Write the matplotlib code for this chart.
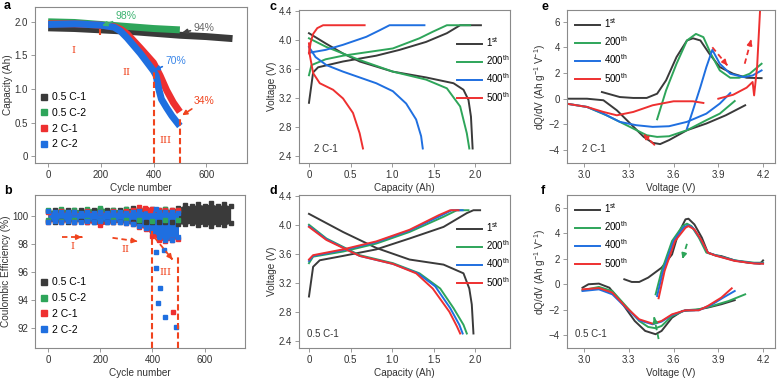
import matplotlib
matplotlib.use('Agg')
import matplotlib.pyplot as plt
from matplotlib.lines import Line2D

plt.rcParams['font.family'] = ['Liberation Sans', 'DejaVu Sans']
plt.rcParams['mathtext.fontset'] = 'custom'
plt.rcParams['mathtext.rm'] = 'Liberation Sans'

# ---------------- colours ----------------
C_BLACK = '#3a3a3a'
C_GREEN = '#2ea55a'
C_RED = '#ee3030'
C_BLUE = '#1f6fe0'
C_ANN = '#f0441e'

# ---------------- panel a: capacity vs cycle ----------------
a_cyc_05c1 = [0, 100, 200, 300, 400, 500, 600, 700]
a_cap_05c1 = [1.91, 1.90, 1.88, 1.86, 1.83, 1.80, 1.78, 1.75]
a_cyc_05c2 = [0, 100, 200, 300, 400, 500]
a_cap_05c2 = [2.00, 1.99, 1.96, 1.93, 1.90, 1.88]
a_cyc_2c1 = [0, 100, 200, 250, 275, 300, 350, 400, 425, 450, 475, 500]
a_cap_2c1 = [1.97, 1.97, 1.95, 1.93, 1.89, 1.82, 1.61, 1.39, 1.20, 0.98, 0.80, 0.66]
a_cyc_2c2 = [0, 100, 200, 250, 275, 300, 350, 400, 410, 420, 430, 450, 470, 490, 500]
a_cap_2c2 = [1.96, 1.97, 1.95, 1.92, 1.86, 1.76, 1.53, 1.27, 1.20, 1.00, 0.85, 0.72, 0.60, 0.50, 0.45]
a_labels = ['0.5 C-1', '0.5 C-2', '2 C-1', '2 C-2']

# ---------------- panel b: coulombic efficiency envelopes ----------------
b_cyc_05c1 = [0, 25, 50, 75, 100, 125, 150, 175, 200, 225, 250, 275, 300, 325, 350,
              375, 400, 425, 450, 475, 500, 525, 550, 575, 600, 625, 650, 675, 700]
b_hi_05c1 = [100.35, 100.4, 100.45, 100.4, 100.45, 100.4, 100.45, 100.4, 100.5, 100.4, 100.45, 100.4, 100.5, 100.6, 100.5,
             100.45, 100.5, 100.45, 100.5, 100.45, 100.6, 100.8, 100.7, 100.85, 100.75, 100.9, 100.7, 100.85, 100.7]
b_lo_05c1 = [99.65, 99.6, 99.65, 99.6, 99.6, 99.65, 99.55, 99.6, 99.6, 99.55, 99.6, 99.6, 99.55, 99.6, 99.6,
             99.6, 99.6, 99.6, 99.6, 99.6, 99.45, 99.4, 99.5, 99.35, 99.45, 99.3, 99.45, 99.35, 99.5]
b_cyc_05c2 = [0, 50, 100, 150, 200, 250, 300, 350, 400, 450, 500]
b_hi_05c2 = [100.4, 100.5, 100.45, 100.5, 100.6, 100.45, 100.5, 100.5, 100.45, 100.5, 100.45]
b_lo_05c2 = [99.7, 99.65, 99.7, 99.7, 99.65, 99.7, 99.7, 99.7, 99.65, 99.7, 99.7]
b_cyc_2c1 = [0, 50, 100, 150, 200, 250, 300, 325, 350, 375, 400, 425, 450, 475, 500]
b_hi_2c1 = [100.3, 100.35, 100.3, 100.35, 100.3, 100.35, 100.35, 100.45, 100.65, 100.5, 100.5, 100.4, 100.45, 100.4, 100.4]
b_lo_2c1 = [99.6, 99.55, 99.6, 99.55, 99.35, 99.55, 99.5, 99.4, 99.2, 99.1, 98.6, 98.3, 98.2, 98.3, 98.4]
b_cyc_2c2 = [0, 25, 50, 75, 100, 125, 150, 175, 200, 225, 250, 275, 300, 325, 350, 375, 400, 425, 450, 475, 500]
b_hi_2c2 = [100.35, 100.3, 100.3, 100.3, 100.3, 100.25, 100.3, 100.25, 100.3, 100.25, 100.3, 100.3,
            100.25, 100.3, 100.35, 100.3, 100.25, 100.3, 100.3, 100.3, 100.2]
b_lo_2c2 = [99.6, 99.65, 99.6, 99.65, 99.6, 99.6, 99.65, 99.6, 99.65, 99.6, 99.55, 99.6,
            99.5, 99.4, 99.3, 99.15, 98.9, 98.5, 98.3, 98.3, 98.5]
b_out_blue_cyc = [414, 414, 414, 430, 422, 449, 490, 445]
b_out_blue_ce = [100.5, 97.45, 96.3, 94.9, 93.8, 92.8, 92.1, 97.6]
b_out_red_cyc = [479, 390, 370]
b_out_red_ce = [93.2, 100.4, 100.6]

# ---------------- panel c: 2 C-1 charge / discharge ----------------
cyc_labels = ['1$^{\\rm st}$', '200$^{\\rm th}$', '400$^{\\rm th}$', '500$^{\\rm th}$']
c_ch_1_q = [0, 0.05, 0.11, 0.41, 0.81, 1.09, 1.41, 1.66, 1.82, 2.07]
c_ch_1_v = [3.13, 3.55, 3.62, 3.70, 3.78, 3.86, 3.97, 4.09, 4.20, 4.20]
c_dc_1_q = [0, 0.20, 0.41, 0.61, 1.01, 1.41, 1.74, 1.86, 1.92, 1.95, 1.97]
c_dc_1_v = [4.09, 3.95, 3.81, 3.70, 3.56, 3.48, 3.40, 3.31, 3.17, 2.94, 2.50]
c_ch_200_q = [0, 0.03, 0.20, 0.41, 1.01, 1.33, 1.49, 1.66, 1.94]
c_ch_200_v = [3.51, 3.65, 3.73, 3.78, 3.88, 4.02, 4.11, 4.20, 4.20]
c_dc_200_q = [0, 0.21, 0.61, 1.01, 1.41, 1.66, 1.82, 1.90, 1.93]
c_dc_200_v = [4.02, 3.90, 3.72, 3.56, 3.45, 3.33, 3.08, 2.71, 2.50]
c_ch_400_q = [0, 0.20, 0.41, 0.69, 0.85, 0.97, 1.39]
c_ch_400_v = [3.82, 3.86, 3.93, 4.04, 4.13, 4.20, 4.20]
c_dc_400_q = [0, 0.08, 0.21, 0.41, 0.61, 0.81, 1.01, 1.17, 1.29, 1.35, 1.37]
c_dc_400_v = [3.90, 3.76, 3.65, 3.56, 3.48, 3.40, 3.29, 3.12, 2.90, 2.67, 2.50]
c_ch_500_q = [0, 0.02, 0.05, 0.10, 0.17, 0.67]
c_ch_500_v = [3.81, 3.96, 4.08, 4.16, 4.20, 4.20]
c_dc_500_q = [0, 0.01, 0.05, 0.13, 0.29, 0.41, 0.53, 0.61, 0.65]
c_dc_500_v = [3.95, 3.79, 3.54, 3.40, 3.31, 3.19, 2.99, 2.71, 2.50]

# ---------------- panel d: 0.5 C-1 charge / discharge ----------------
d_ch_1_q = [0, 0.05, 0.13, 0.41, 0.81, 1.21, 1.62, 1.90, 1.98, 2.06]
d_ch_1_v = [3.01, 3.42, 3.51, 3.57, 3.66, 3.81, 3.97, 4.16, 4.20, 4.20]
d_dc_1_q = [0, 0.41, 0.81, 1.21, 1.62, 1.86, 1.93, 1.96, 1.98]
d_dc_1_v = [4.15, 3.90, 3.68, 3.52, 3.45, 3.33, 3.12, 2.90, 2.50]
d_ch_200_q = [0, 0.05, 0.41, 0.81, 1.21, 1.62, 1.78, 1.92]
d_ch_200_v = [3.47, 3.56, 3.63, 3.74, 3.90, 4.11, 4.20, 4.20]
d_dc_200_q = [0, 0.21, 0.61, 1.01, 1.33, 1.58, 1.74, 1.86, 1.90]
d_dc_200_v = [4.00, 3.81, 3.58, 3.47, 3.33, 3.12, 2.85, 2.62, 2.50]
d_ch_400_q = [0, 0.05, 0.41, 0.81, 1.21, 1.58, 1.72, 1.85]
d_ch_400_v = [3.50, 3.57, 3.65, 3.76, 3.92, 4.12, 4.20, 4.20]
d_dc_400_q = [0, 0.21, 0.61, 1.01, 1.31, 1.52, 1.70, 1.81, 1.85]
d_dc_400_v = [3.98, 3.80, 3.57, 3.46, 3.33, 3.15, 2.85, 2.62, 2.50]
d_ch_500_q = [0, 0.05, 0.41, 0.81, 1.21, 1.56, 1.70, 1.80]
d_ch_500_v = [3.52, 3.58, 3.66, 3.77, 3.93, 4.13, 4.20, 4.20]
d_dc_500_q = [0, 0.21, 0.61, 1.01, 1.29, 1.49, 1.69, 1.78, 1.82]
d_dc_500_v = [3.97, 3.79, 3.57, 3.46, 3.33, 3.12, 2.80, 2.60, 2.50]

# ---------------- panel e: dQ/dV 2 C-1 ----------------
e_ch_1_v = [3.12, 3.24, 3.33, 3.42, 3.49, 3.55, 3.62, 3.69, 3.73, 3.78, 3.84, 3.91, 4.00, 4.09, 4.19]
e_ch_1_y = [0.52, 0.13, 0.06, 0.06, 0.39, 1.43, 3.24, 4.53, 4.70, 4.53, 3.50, 2.46, 1.94, 1.63, 1.60]
e_dc_1_v = [2.88, 3.02, 3.13, 3.22, 3.31, 3.40, 3.46, 3.51, 3.57, 3.69, 3.82, 3.95, 4.08]
e_dc_1_y = [0.0, 0.0, -0.12, -0.90, -1.93, -2.97, -3.43, -3.53, -3.22, -2.45, -1.93, -1.29, -0.51]
e_ch_200_v = [3.49, 3.55, 3.62, 3.69, 3.75, 3.80, 3.85, 3.91, 3.98, 4.04, 4.11, 4.19]
e_ch_200_y = [-1.60, 0.65, 2.72, 4.53, 5.04, 4.79, 3.50, 2.20, 1.63, 1.63, 1.94, 2.72]
e_dc_200_v = [2.88, 3.02, 3.15, 3.24, 3.33, 3.42, 3.49, 3.57, 3.69, 3.82, 3.91, 4.01]
e_dc_200_y = [-0.38, -0.64, -1.29, -1.80, -2.32, -2.84, -2.97, -2.92, -2.45, -1.67, -1.16, -0.18]
e_ch_400_v = [3.69, 3.73, 3.78, 3.82, 3.86, 3.91, 3.98, 4.07, 4.13, 4.19]
e_ch_400_y = [-2.32, -0.90, 0.91, 2.46, 3.80, 2.72, 1.94, 1.68, 1.81, 2.20]
e_dc_400_v = [2.88, 3.02, 3.13, 3.24, 3.35, 3.46, 3.57, 3.69, 3.82, 3.91, 3.98]
e_dc_400_y = [-0.38, -0.64, -1.16, -1.80, -2.06, -2.19, -2.14, -1.80, -1.16, -0.38, 0.44]
e_ch_500_v = [3.90, 4.00, 4.09, 4.13, 4.14, 4.16, 4.18]
e_ch_500_y = [0.0, 0.31, 0.86, 1.30, 0.26, 2.46, 6.90]
e_dc_500_v = [2.88, 3.02, 3.13, 3.22, 3.33, 3.46, 3.60, 3.73, 3.80]
e_dc_500_y = [-0.38, -0.64, -1.03, -1.29, -1.03, -0.51, -0.20, -0.20, -0.33]

# ---------------- panel f: dQ/dV 0.5 C-1 ----------------
f_ch_1_v = [3.27, 3.32, 3.37, 3.43, 3.52, 3.59, 3.63, 3.68, 3.70, 3.74, 3.79, 3.83, 3.88, 3.92, 4.01, 4.10, 4.18, 4.20]
f_ch_1_y = [0.39, 0.18, 0.18, 0.52, 1.30, 2.34, 3.91, 5.09, 5.14, 4.69, 3.65, 2.48, 2.27, 2.21, 1.87, 1.69, 1.61, 1.87]
f_ch_200_v = [3.48, 3.52, 3.59, 3.66, 3.69, 3.72, 3.77, 3.82, 3.88, 4.01, 4.14, 4.20]
f_ch_200_y = [-0.79, 1.04, 3.39, 4.56, 4.75, 4.56, 3.65, 2.48, 2.29, 1.87, 1.69, 1.69]
f_ch_400_v = [3.49, 3.53, 3.60, 3.67, 3.70, 3.73, 3.78, 3.83, 3.88, 4.01, 4.14, 4.20]
f_ch_400_y = [-0.92, 1.04, 3.39, 4.49, 4.62, 4.43, 3.55, 2.48, 2.27, 1.85, 1.65, 1.63]
f_ch_500_v = [3.50, 3.54, 3.61, 3.68, 3.70, 3.74, 3.79, 3.83, 3.88, 4.01, 4.14, 4.20]
f_ch_500_y = [-1.10, 1.04, 3.39, 4.43, 4.56, 4.30, 3.39, 2.48, 2.25, 1.83, 1.63, 1.61]
f_dc_1_v = [2.99, 3.03, 3.10, 3.17, 3.26, 3.34, 3.41, 3.48, 3.52, 3.59, 3.66, 3.74, 3.83, 3.92, 4.01]
f_dc_1_y = [-0.27, 0.0, 0.05, -0.27, -1.57, -2.88, -3.66, -3.92, -3.66, -2.62, -2.09, -2.04, -1.83, -1.57, -1.25]
f_dc_200_v = [2.99, 3.10, 3.19, 3.28, 3.37, 3.43, 3.48, 3.52, 3.59, 3.68, 3.77, 3.86, 3.97, 4.08]
f_dc_200_y = [-0.47, -0.21, -0.53, -1.70, -2.88, -3.35, -3.45, -3.27, -2.49, -2.04, -1.96, -1.70, -1.31, -0.79]
f_dc_400_v = [2.99, 3.10, 3.19, 3.28, 3.37, 3.46, 3.52, 3.59, 3.68, 3.77, 3.86, 3.94, 4.01]
f_dc_400_y = [-0.53, -0.40, -0.79, -1.83, -2.83, -3.14, -2.93, -2.41, -2.04, -2.04, -1.57, -1.00, -0.53]
f_dc_500_v = [2.99, 3.10, 3.19, 3.28, 3.37, 3.46, 3.52, 3.59, 3.68, 3.77, 3.83, 3.92, 3.99]
f_dc_500_y = [-0.40, -0.30, -0.66, -1.78, -2.75, -3.09, -2.88, -2.36, -2.04, -2.04, -1.70, -1.05, -0.32]

W, H = 780, 379
fig = plt.figure(figsize=(7.8, 3.79), dpi=100)


def box(l, t, r, b):
    return [l / W, 1 - b / H, (r - l) / W, (b - t) / H]


def style(ax):
    for s in ax.spines.values():
        s.set_color('#8a8a8a')
        s.set_linewidth(0.8)
    ax.tick_params(direction='out', length=3, width=0.6, color='#8a8a8a',
                   labelsize=7, labelcolor='#333333', pad=2)


def lab(ax, xl, yl):
    ax.set_xlabel(xl, fontsize=7.2, color='#333333', labelpad=2)
    ax.set_ylabel(yl, fontsize=7.2, color='#333333', labelpad=1)


def dash_arrow(ax, x0, y0, x1, y1, color):
    ax.plot([x0, x1], [y0, y1], color=color, lw=1.3, ls=(0, (3, 2)))
    ax.annotate('', xy=(x1, y1), xytext=(x0 + 0.85 * (x1 - x0), y0 + 0.85 * (y1 - y0)),
                arrowprops=dict(arrowstyle='-|>', color=color, lw=1.3, mutation_scale=7))


def cyc_legend(ax, anchor):
    ax.legend(loc='upper left', bbox_to_anchor=anchor, frameon=False, fontsize=7,
              handlelength=2.6, handletextpad=0.4, labelspacing=0.45, borderaxespad=0)


# ======== a ========
ax = fig.add_axes(box(35, 7, 247, 163))
style(ax)
ax.plot(a_cyc_05c1, a_cap_05c1, color=C_BLACK, lw=5, solid_capstyle='butt')
ax.plot(a_cyc_05c2, a_cap_05c2, color=C_GREEN, lw=5, solid_capstyle='butt')
ax.plot(a_cyc_2c1, a_cap_2c1, color=C_RED, lw=5, solid_capstyle='butt')
ax.plot(a_cyc_2c2, a_cap_2c2, color=C_BLUE, lw=5, solid_capstyle='butt')
ax.set_xlim(-50, 755)
ax.set_ylim(-0.1, 2.22)
ax.set_xticks([0, 200, 400, 600])
ax.set_yticks([0, 0.5, 1.0, 1.5, 2.0])
ax.set_yticklabels(['0', '0.5', '1.0', '1.5', '2.0'])
lab(ax, 'Cycle number', 'Capacity (Ah)')
handles = [Line2D([], [], ls='', marker='s', ms=4.5, color=c) for c in [C_BLACK, C_GREEN, C_RED, C_BLUE]]
ax.legend(handles, a_labels, loc='lower left', bbox_to_anchor=(0.01, 0.06), frameon=False, fontsize=7.5,
          handlelength=0.6, handletextpad=0.4, labelspacing=0.55, borderaxespad=0)
ax.plot([400, 400], [-0.1, 1.27], color=C_ANN, lw=1.5, ls=(0, (3, 1.5)))
ax.plot([500, 500], [-0.1, 0.58], color=C_ANN, lw=1.5, ls=(0, (3, 1.5)))
ax.plot([198, 198], [1.80, 1.90], color=C_ANN, lw=1.5, ls=(0, (3, 1.5)))
ax.text(95, 1.58, 'I', color=C_ANN, fontsize=7, ha='center', va='center', family='DejaVu Serif')
ax.text(297, 1.25, 'II', color=C_ANN, fontsize=7, ha='center', va='center', family='DejaVu Serif')
ax.text(445, 0.24, 'III', color=C_ANN, fontsize=7, ha='center', va='center', family='DejaVu Serif')
ap = dict(arrowstyle='-|>', lw=1.2, mutation_scale=7, shrinkA=0, shrinkB=0)
ax.annotate('98%', xy=(205, 1.94), xytext=(255, 2.08), color='#3cb371', fontsize=7.5, va='center',
            arrowprops=dict(ap, color='#3cb371'))
ax.annotate('94%', xy=(509, 1.84), xytext=(551, 1.91), color='#666666', fontsize=7.5, va='center',
            arrowprops=dict(ap, color='#444444'))
ax.annotate('70%', xy=(403, 1.28), xytext=(444, 1.42), color='#3a86e8', fontsize=7.5, va='center',
            arrowprops=dict(ap, color=C_BLUE))
ax.annotate('34%', xy=(509, 0.61), xytext=(551, 0.82), color=C_ANN, fontsize=7.5, va='center',
            arrowprops=dict(ap, color=C_ANN))
fig.text(4 / W, 1 - 6 / H, 'a', fontsize=9, fontweight='bold', va='center')

# ======== b ========
ax = fig.add_axes(box(35, 195, 245, 348))
style(ax)
for cyc, hi, lo, c in [(b_cyc_05c1, b_hi_05c1, b_lo_05c1, C_BLACK),
                       (b_cyc_05c2, b_hi_05c2, b_lo_05c2, C_GREEN),
                       (b_cyc_2c1, b_hi_2c1, b_lo_2c1, C_RED),
                       (b_cyc_2c2, b_hi_2c2, b_lo_2c2, C_BLUE)]:
    ax.fill_between(cyc, lo, hi, color=c, lw=0)
    ax.plot(cyc, hi, ls='', marker='s', ms=3.2, color=c)
    ax.plot(cyc, lo, ls='', marker='s', ms=3.2, color=c)
ax.plot(b_out_red_cyc, b_out_red_ce, ls='', marker='s', ms=3.2, color=C_RED)
ax.plot(b_out_blue_cyc, b_out_blue_ce, ls='', marker='s', ms=3.2, color=C_BLUE)
ax.set_xlim(-50, 755)
ax.set_ylim(90.6, 101.5)
ax.set_xticks([0, 200, 400, 600])
ax.set_yticks([92, 94, 96, 98, 100])
lab(ax, 'Cycle number', 'Coulombic Efficiency (%)')
ax.legend(handles, a_labels, loc='lower left', bbox_to_anchor=(0.01, 0.06), frameon=False, fontsize=7.5,
          handlelength=0.6, handletextpad=0.4, labelspacing=0.55, borderaxespad=0)
ax.plot([400, 400], [90.6, 98.9], color=C_ANN, lw=1.5, ls=(0, (3, 1.5)))
ax.plot([500, 500], [90.6, 97.1], color=C_ANN, lw=1.5, ls=(0, (3, 1.5)))
dash_arrow(ax, 53, 98.5, 129, 98.5, C_ANN)
dash_arrow(ax, 247, 98.45, 342, 98.2, C_ANN)
dash_arrow(ax, 407, 98.5, 477, 96.9, C_ANN)
ax.text(95, 97.8, 'I', color=C_ANN, fontsize=7, ha='center', va='center', family='DejaVu Serif')
ax.text(297, 97.65, 'II', color=C_ANN, fontsize=7, ha='center', va='center', family='DejaVu Serif')
ax.text(448, 96.0, 'III', color=C_ANN, fontsize=7, ha='center', va='center', family='DejaVu Serif')
fig.text(4 / W, 1 - 191 / H, 'b', fontsize=9, fontweight='bold', va='center')

# ======== c ========
ax = fig.add_axes(box(299, 10, 510, 163))
style(ax)
for q1, v1, q2, v2, c, l in [(c_ch_1_q, c_ch_1_v, c_dc_1_q, c_dc_1_v, C_BLACK, cyc_labels[0]),
                             (c_ch_200_q, c_ch_200_v, c_dc_200_q, c_dc_200_v, C_GREEN, cyc_labels[1]),
                             (c_ch_400_q, c_ch_400_v, c_dc_400_q, c_dc_400_v, C_BLUE, cyc_labels[2]),
                             (c_ch_500_q, c_ch_500_v, c_dc_500_q, c_dc_500_v, C_RED, cyc_labels[3])]:
    ax.plot(q1, v1, color=c, lw=1.4, label=l)
    ax.plot(q2, v2, color=c, lw=1.4)
ax.set_xlim(-0.12, 2.42)
ax.set_ylim(2.30, 4.41)
ax.set_xticks([0, 0.5, 1.0, 1.5, 2.0])
ax.set_xticklabels(['0', '0.5', '1.0', '1.5', '2.0'])
ax.set_yticks([2.4, 2.8, 3.2, 3.6, 4.0, 4.4])
lab(ax, 'Capacity (Ah)', 'Voltage (V)')
cyc_legend(ax, (0.73, 0.86))
ax.text(0.07, 0.07, '2 C-1', transform=ax.transAxes, fontsize=7, color='#333333')
fig.text(269 / W, 1 - 7 / H, 'c', fontsize=9, fontweight='bold', va='center')

# ======== d ========
ax = fig.add_axes(box(299, 195, 510, 348))
style(ax)
for q1, v1, q2, v2, c, l in [(d_ch_1_q, d_ch_1_v, d_dc_1_q, d_dc_1_v, C_BLACK, cyc_labels[0]),
                             (d_ch_200_q, d_ch_200_v, d_dc_200_q, d_dc_200_v, C_GREEN, cyc_labels[1]),
                             (d_ch_400_q, d_ch_400_v, d_dc_400_q, d_dc_400_v, C_BLUE, cyc_labels[2]),
                             (d_ch_500_q, d_ch_500_v, d_dc_500_q, d_dc_500_v, C_RED, cyc_labels[3])]:
    ax.plot(q1, v1, color=c, lw=1.4, label=l)
    ax.plot(q2, v2, color=c, lw=1.4)
ax.set_xlim(-0.12, 2.42)
ax.set_ylim(2.30, 4.41)
ax.set_xticks([0, 0.5, 1.0, 1.5, 2.0])
ax.set_xticklabels(['0', '0.5', '1.0', '1.5', '2.0'])
ax.set_yticks([2.4, 2.8, 3.2, 3.6, 4.0, 4.4])
lab(ax, 'Capacity (Ah)', 'Voltage (V)')
cyc_legend(ax, (0.73, 0.86))
ax.text(0.04, 0.07, '0.5 C-1', transform=ax.transAxes, fontsize=7, color='#333333')
fig.text(269 / W, 1 - 191 / H, 'd', fontsize=9, fontweight='bold', va='center')

# ======== e ========
ax = fig.add_axes(box(567, 10, 775, 163))
style(ax)
for v1, y1, v2, y2, c, l in [(e_ch_1_v, e_ch_1_y, e_dc_1_v, e_dc_1_y, C_BLACK, cyc_labels[0]),
                             (e_ch_200_v, e_ch_200_y, e_dc_200_v, e_dc_200_y, C_GREEN, cyc_labels[1]),
                             (e_ch_400_v, e_ch_400_y, e_dc_400_v, e_dc_400_y, C_BLUE, cyc_labels[2]),
                             (e_ch_500_v, e_ch_500_y, e_dc_500_v, e_dc_500_y, C_RED, cyc_labels[3])]:
    ax.plot(v1, y1, color=c, lw=1.4, label=l)
    ax.plot(v2, y2, color=c, lw=1.4)
ax.set_xlim(2.886, 4.28)
ax.set_ylim(-5.0, 6.9)
ax.set_xticks([3.0, 3.3, 3.6, 3.9, 4.2])
ax.set_yticks([-4, -2, 0, 2, 4, 6])
lab(ax, 'Voltage (V)', 'dQ/dV (Ah g$^{-1}$ V$^{-1}$)')
cyc_legend(ax, (0.02, 0.985))
ax.text(0.07, 0.07, '2 C-1', transform=ax.transAxes, fontsize=7, color='#333333')
ax.annotate('', xy=(3.384, -2.58), xytext=(3.485, -3.74),
            arrowprops=dict(arrowstyle='-|>', color=C_RED, lw=1.3, mutation_scale=7, ls=(0, (3, 1.5))))
dash_arrow(ax, 3.86, 4.0, 3.96, 2.6, C_RED)
dash_arrow(ax, 4.077, 2.72, 4.12, 4.58, C_RED)
fig.text(541 / W, 1 - 7 / H, 'e', fontsize=9, fontweight='bold', va='center')

# ======== f ========
ax = fig.add_axes(box(567, 195, 775, 348))
style(ax)
for v1, y1, v2, y2, c, l in [(f_ch_1_v, f_ch_1_y, f_dc_1_v, f_dc_1_y, C_BLACK, cyc_labels[0]),
                             (f_ch_200_v, f_ch_200_y, f_dc_200_v, f_dc_200_y, C_GREEN, cyc_labels[1]),
                             (f_ch_400_v, f_ch_400_y, f_dc_400_v, f_dc_400_y, C_BLUE, cyc_labels[2]),
                             (f_ch_500_v, f_ch_500_y, f_dc_500_v, f_dc_500_y, C_RED, cyc_labels[3])]:
    ax.plot(v1, y1, color=c, lw=1.4, label=l)
    ax.plot(v2, y2, color=c, lw=1.4)
ax.set_xlim(2.886, 4.28)
ax.set_ylim(-5.0, 7.0)
ax.set_xticks([3.0, 3.3, 3.6, 3.9, 4.2])
ax.set_yticks([-4, -2, 0, 2, 4, 6])
lab(ax, 'Voltage (V)', 'dQ/dV (Ah g$^{-1}$ V$^{-1}$)')
cyc_legend(ax, (0.02, 0.985))
ax.text(0.04, 0.07, '0.5 C-1', transform=ax.transAxes, fontsize=7, color='#333333')
dash_arrow(ax, 3.69, 3.17, 3.66, 2.0, C_GREEN)
dash_arrow(ax, 3.50, -4.3, 3.47, -2.6, C_GREEN)
fig.text(541 / W, 1 - 191 / H, 'f', fontsize=9, fontweight='bold', va='center')

fig.savefig('out.png', dpi=100)
